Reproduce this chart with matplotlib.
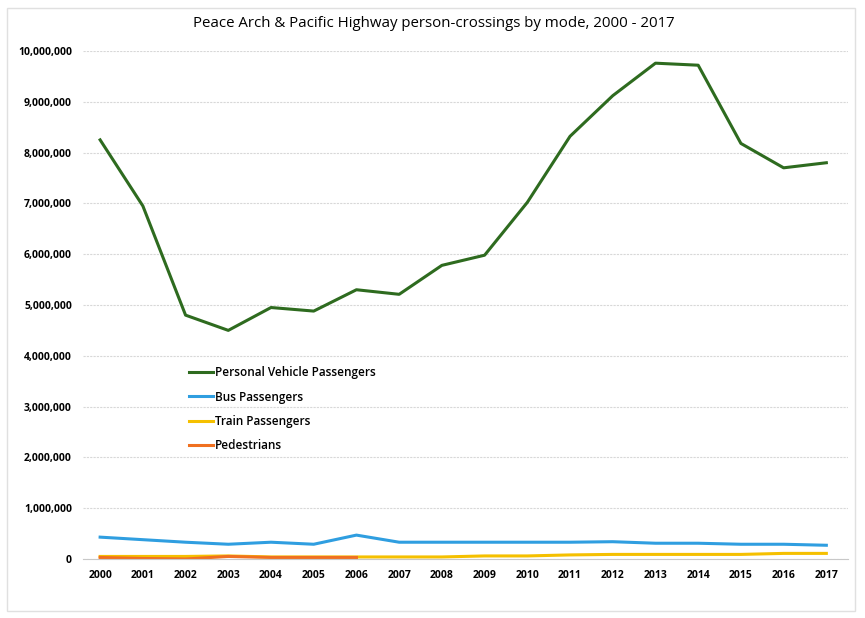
import matplotlib.pyplot as plt
from matplotlib.ticker import FuncFormatter
from matplotlib.patches import Rectangle

years = [str(y) for y in range(2000, 2018)]

personal_vehicle = [8.25e6, 6.95e6, 4.80e6, 4.50e6, 4.95e6, 4.88e6, 5.30e6, 5.21e6, 5.78e6,
                    5.98e6, 7.02e6, 8.32e6, 9.12e6, 9.76e6, 9.72e6, 8.18e6, 7.70e6, 7.80e6]
bus = [0.43e6, 0.38e6, 0.33e6, 0.29e6, 0.33e6, 0.29e6, 0.47e6, 0.33e6, 0.33e6,
       0.33e6, 0.33e6, 0.33e6, 0.34e6, 0.31e6, 0.31e6, 0.29e6, 0.29e6, 0.27e6]
train = [0.05e6, 0.05e6, 0.05e6, 0.06e6, 0.04e6, 0.04e6, 0.04e6, 0.04e6, 0.04e6,
         0.06e6, 0.06e6, 0.08e6, 0.09e6, 0.09e6, 0.09e6, 0.09e6, 0.11e6, 0.11e6]
pedestrians = [0.03e6, 0.01e6, 0.0, 0.05e6, 0.03e6, 0.03e6, 0.03e6]

plt.rcParams['font.family'] = ['Open Sans', 'DejaVu Sans']

fig = plt.figure(figsize=(8.65, 6.18), dpi=100)
ax = fig.add_axes([0.096, 0.0955, 0.884, 0.822])

x = list(range(len(years)))
ax.plot(x, personal_vehicle, color='#2e6b1f', lw=2.2, label='Personal Vehicle Passengers')
ax.plot(x, bus, color='#2f9ee0', lw=2.2, label='Bus Passengers')
ax.plot(x, train, color='#f5c000', lw=2.2, label='Train Passengers')
ax.plot(x[:len(pedestrians)], pedestrians, color='#f07020', lw=2.2, label='Pedestrians')

ax.set_xlim(-0.4, 17.5)
ax.set_ylim(0, 10e6)
ax.set_xticks(x)
ax.set_xticklabels(years)
ax.set_yticks(range(0, 10000001, 1000000))
ax.yaxis.set_major_formatter(FuncFormatter(lambda v, p: f'{int(v):,}'))
for lab in ax.get_xticklabels() + ax.get_yticklabels():
    lab.set_fontweight('bold')
    lab.set_fontsize(7.5)
ax.tick_params(length=0, pad=8)

ax.grid(axis='y', color='#d8d8d8', lw=0.8, ls=(0, (2, 1)))
ax.set_axisbelow(True)
for s in ['top', 'right', 'left']:
    ax.spines[s].set_visible(False)
ax.spines['bottom'].set_color('#c8c8c8')

leg = ax.legend(loc='upper left', bbox_to_anchor=(0.125, 0.40), frameon=False, fontsize=8.5,
                handlelength=2.0, handletextpad=0.15, labelspacing=0.95)
for t in leg.get_texts():
    t.set_fontweight('semibold')

fig.text(0.502, 0.962, 'Peace Arch & Pacific Highway person-crossings by mode, 2000 - 2017',
         ha='center', va='center', fontsize=10.8)

fig.patches.append(Rectangle((0.008, 0.012), 0.98, 0.975, transform=fig.transFigure,
                             fill=False, ec='#e0e0e0', lw=1))

fig.savefig('out.png', dpi=100)
